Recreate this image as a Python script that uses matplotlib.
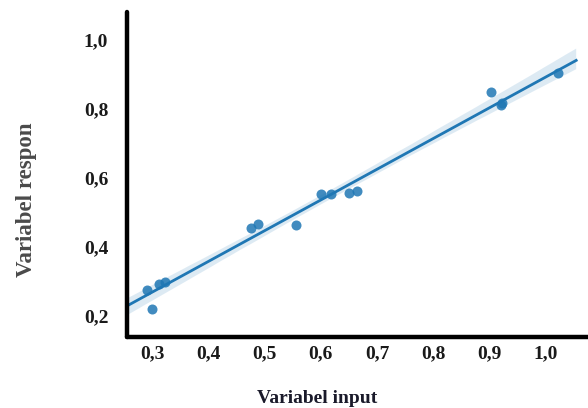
import numpy as np
import matplotlib
matplotlib.use("Agg")
import matplotlib.pyplot as plt
import seaborn as sns
from matplotlib.ticker import FuncFormatter

# ── data ─────────────────────────────────────────────────────────────────────
x_input = [0.292, 0.300, 0.312, 0.324, 0.476, 0.488, 0.556, 0.601, 0.618,
           0.650, 0.664, 0.902, 0.921, 0.923, 1.021]
y_respon = [0.275, 0.220, 0.293, 0.299, 0.455, 0.467, 0.464, 0.554, 0.554,
            0.557, 0.562, 0.850, 0.810, 0.817, 0.904]
x_ticks = [0.3, 0.4, 0.5, 0.6, 0.7, 0.8, 0.9, 1.0]
y_ticks = [0.2, 0.4, 0.6, 0.8, 1.0]

plt.rcParams["font.family"] = ["Liberation Serif", "DejaVu Serif"]
plt.rcParams["font.weight"] = "bold"

fig = plt.figure(figsize=(5.88, 4.08), dpi=100)
ax = fig.add_axes([0.216, 0.174, 0.784, 0.797])

# regression line runs to x ~ 1.054, the axis itself a bit further
ax.set_xlim(0.2556, 1.054)
sns.regplot(x=np.array(x_input), y=np.array(y_respon), ax=ax, ci=95,
            truncate=False, color="#1f77b4",
            scatter_kws={"s": 52, "alpha": 0.85, "linewidths": 0},
            line_kws={"linewidth": 2})
ax.set_xlim(0.2556, 1.075)
ax.set_ylim(0.139, 1.081)

ax.set_xticks(x_ticks)
ax.set_yticks(y_ticks)
fmt = FuncFormatter(lambda v, _: f"{v:.1f}".replace(".", ","))
ax.xaxis.set_major_formatter(fmt)
ax.yaxis.set_major_formatter(fmt)
ax.tick_params(length=0, labelsize=14, labelcolor="#1a1a1a")
ax.tick_params(axis="y", pad=13.5)
ax.tick_params(axis="x", pad=6)
for lbl in ax.get_xticklabels() + ax.get_yticklabels():
    lbl.set_fontweight("bold")

for side in ("top", "right"):
    ax.spines[side].set_visible(False)
for side in ("left", "bottom"):
    ax.spines[side].set_linewidth(3.2)
    ax.spines[side].set_color("black")
    ax.spines[side].set_capstyle("round")

ax.set_xlabel("")
ax.set_ylabel("")
fig.text(0.539, 0.003, "Variabel input", ha="center", va="bottom",
         fontsize=14, fontweight="bold", color="#1a1a2a")
fig.text(0.045, 0.51, "Variabel respon", ha="center", va="center",
         rotation=90, fontsize=16.5, fontweight="bold", color="#4a4a4a")

fig.savefig("out.png", dpi=100)
plt.close(fig)
